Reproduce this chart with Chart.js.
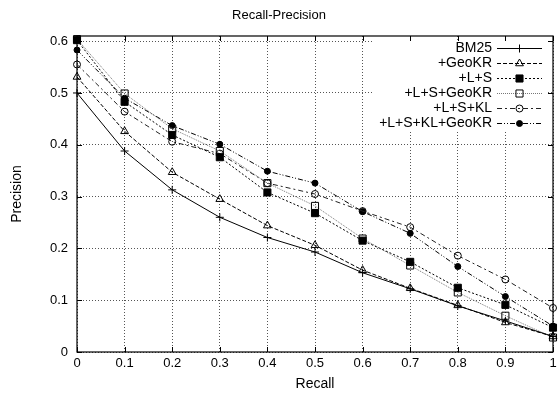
<!DOCTYPE html>
<html><head><meta charset="utf-8">
<script src="https://cdn.jsdelivr.net/npm/chart.js@4/dist/chart.umd.min.js"></script>
<style>html,body{margin:0;padding:0;background:#fff}</style>
</head><body>
<canvas id="c" width="559" height="399"></canvas>
<script>
const recall = [0, 0.1, 0.2, 0.3, 0.4, 0.5, 0.6, 0.7, 0.8, 0.9, 1.0];
const seriesNames = ['BM25', '+GeoKR', '+L+S', '+L+S+GeoKR', '+L+S+KL', '+L+S+KL+GeoKR'];
const bm25      = [0.500, 0.388, 0.313, 0.260, 0.221, 0.193, 0.153, 0.122, 0.089, 0.060, 0.030];
const geoKR     = [0.531, 0.426, 0.347, 0.295, 0.244, 0.206, 0.158, 0.123, 0.090, 0.057, 0.030];
const ls        = [0.602, 0.483, 0.419, 0.376, 0.308, 0.268, 0.215, 0.174, 0.124, 0.091, 0.047];
const lsGeoKR   = [0.604, 0.499, 0.431, 0.388, 0.326, 0.282, 0.219, 0.167, 0.115, 0.070, 0.028];
const lsKL      = [0.555, 0.464, 0.406, 0.383, 0.326, 0.305, 0.272, 0.241, 0.186, 0.140, 0.085];
const lsKLGeoKR = [0.583, 0.490, 0.437, 0.401, 0.349, 0.326, 0.271, 0.229, 0.165, 0.107, 0.050];
const xTicks = [0, 0.1, 0.2, 0.3, 0.4, 0.5, 0.6, 0.7, 0.8, 0.9, 1];
const yTicks = [0, 0.1, 0.2, 0.3, 0.4, 0.5, 0.6];

const allValues = [bm25, geoKR, ls, lsGeoKR, lsKL, lsKLGeoKR];
const styles = [
  {color:'#000', dash:[], point:'cross', r:4, fill:'#000'},
  {color:'#000', dash:[4,2], point:'triangle', r:4.5, fill:'rgba(0,0,0,0)'},
  {color:'#000', dash:[2,2], point:'rect', r:5, fill:'#000'},
  {color:'#777', dash:[1,1], point:'rect', r:5, fill:'rgba(0,0,0,0)'},
  {color:'#222', dash:[5,3,2,3], point:'circle', r:3.5, fill:'rgba(0,0,0,0)'},
  {color:'#000', dash:[5,2,1,2,1,2], point:'circle', r:3, fill:'#000'}
];

const datasets = seriesNames.map((name, k) => ({
  label: name,
  data: recall.map((r, i) => ({x: r, y: allValues[k][i]})),
  borderColor: styles[k].color,
  borderWidth: 1,
  borderDash: styles[k].dash,
  tension: 0,
  fill: false,
  pointStyle: styles[k].point,
  pointRadius: styles[k].r,
  pointBackgroundColor: styles[k].fill,
  pointBorderColor: '#000',
  pointBorderWidth: 1,
  clip: false
}));

const FONT = "'Liberation Sans', Arial, Helvetica, sans-serif";

function drawMarker(ctx, style, r, x, y, fill) {
  ctx.save();
  ctx.setLineDash([]);
  ctx.strokeStyle = '#000';
  ctx.fillStyle = fill;
  ctx.lineWidth = 1;
  ctx.beginPath();
  if (style === 'cross') {
    ctx.moveTo(x - r, y); ctx.lineTo(x + r, y);
    ctx.moveTo(x, y - r); ctx.lineTo(x, y + r);
    ctx.stroke();
  } else if (style === 'triangle') {
    ctx.moveTo(x, y - r);
    ctx.lineTo(x + r * 0.866, y + r * 0.5);
    ctx.lineTo(x - r * 0.866, y + r * 0.5);
    ctx.closePath(); ctx.fill(); ctx.stroke();
  } else if (style === 'rect') {
    const s = Math.SQRT1_2 * r;
    ctx.rect(x - s, y - s, 2 * s, 2 * s); ctx.fill(); ctx.stroke();
  } else {
    ctx.arc(x, y, r, 0, Math.PI * 2); ctx.fill(); ctx.stroke();
  }
  ctx.restore();
}

const framePlugin = {
  id: 'frame',
  afterDatasetsDraw(chart) {
    const ctx = chart.ctx;
    ctx.save();
    ctx.fillStyle = '#fff';
    ctx.fillRect(372, 41, 176, 89);
    ctx.font = '14px ' + FONT;
    ctx.textAlign = 'right';
    ctx.textBaseline = 'middle';
    seriesNames.forEach((name, k) => {
      const y = 48 + k * 15;
      ctx.fillStyle = '#000';
      ctx.fillText(name, 492, y);
      ctx.save();
      ctx.strokeStyle = styles[k].color;
      ctx.lineWidth = 1;
      ctx.setLineDash(styles[k].dash);
      ctx.beginPath();
      ctx.moveTo(497, y + 0.5); ctx.lineTo(542, y + 0.5);
      ctx.stroke();
      ctx.restore();
      drawMarker(ctx, styles[k].point, styles[k].r, 519.5, y + 0.5, styles[k].fill);
    });
    ctx.restore();
  },
  afterDraw(chart) {
    const ctx = chart.ctx;
    const a = chart.chartArea;
    const xs = chart.scales.x, ys = chart.scales.y;
    ctx.save();
    ctx.setLineDash([]);
    ctx.strokeStyle = '#000';
    ctx.lineWidth = 1.2;
    ctx.strokeRect(a.left, a.top, a.right - a.left, a.bottom - a.top);
    ctx.lineWidth = 1;
    ctx.beginPath();
    xTicks.forEach(t => {
      const px = Math.round(xs.getPixelForValue(t)) + 0.5;
      ctx.moveTo(px, a.bottom); ctx.lineTo(px, a.bottom - 5);
      ctx.moveTo(px, a.top); ctx.lineTo(px, a.top + 5);
    });
    yTicks.forEach(t => {
      const py = Math.round(ys.getPixelForValue(t)) + 0.5;
      ctx.moveTo(a.left, py); ctx.lineTo(a.left + 5, py);
      ctx.moveTo(a.right, py); ctx.lineTo(a.right - 5, py);
    });
    ctx.stroke();
    ctx.restore();
  }
};

new Chart(document.getElementById('c'), {
  type: 'line',
  data: { datasets },
  options: {
    responsive: false,
    animation: false,
    devicePixelRatio: 1,
    layout: { padding: { left: 0, right: 1, top: 0, bottom: 0 } },
    plugins: {
      legend: { display: false },
      tooltip: { enabled: false },
      title: {
        display: true,
        text: 'Recall-Precision',
        color: '#000',
        font: { family: FONT, size: 13, weight: 'normal' },
        padding: { top: 8, bottom: 12.4 }
      }
    },
    scales: {
      x: {
        type: 'linear', min: 0, max: 1,
        afterFit(s) { s.height = 47; s.paddingLeft = 0; s.paddingRight = 0; },
        afterBuildTicks(s) { s.ticks = xTicks.map(v => ({value: v})); },
        ticks: {
          padding: 4, color: '#000', maxRotation: 0, autoSkip: false,
          font: { family: FONT, size: 13 },
          callback: v => String(+(+v).toFixed(1))
        },
        grid: { color: '#555', lineWidth: 1, drawTicks: false },
        border: { display: false, dash: [1, 2] },
        title: { display: true, text: 'Recall', color: '#000',
          font: { family: FONT, size: 14 }, padding: { top: 0, bottom: 6 } }
      },
      y: {
        type: 'linear', min: 0, max: 0.61,
        afterFit(s) { s.width = 77; s.paddingTop = 0; s.paddingBottom = 0; },
        afterBuildTicks(s) { s.ticks = yTicks.map(v => ({value: v})); },
        ticks: {
          padding: 9, color: '#000',
          font: { family: FONT, size: 13 },
          callback: v => String(+(+v).toFixed(1))
        },
        grid: { color: '#555', lineWidth: 1, drawTicks: false },
        border: { display: false, dash: [1, 2] },
        title: { display: true, text: 'Precision', color: '#000',
          font: { family: FONT, size: 14 }, padding: { top: 9, bottom: 0 } }
      }
    }
  },
  plugins: [framePlugin]
});
</script>
</body></html>
